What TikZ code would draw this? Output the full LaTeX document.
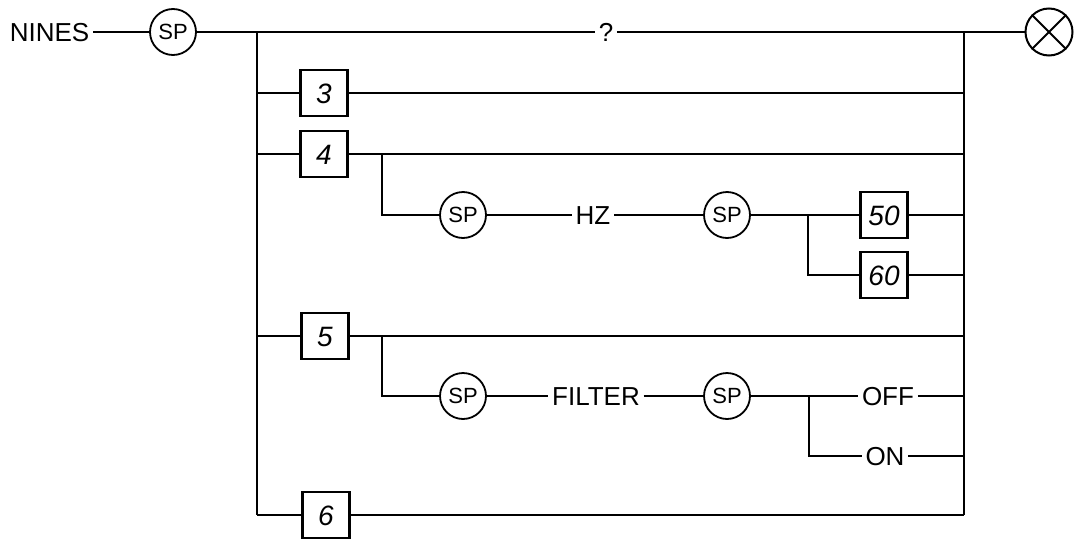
\documentclass[tikz,border=0pt]{standalone}
\usepackage{fontspec}
\setmainfont{Liberation Sans}
\begin{document}
\begin{tikzpicture}[x=1pt,y=-1pt,
  line width=1.5pt,
  lbl/.style={inner sep=3pt, font=\fontsize{26}{26}\selectfont, text height=18.6pt, text depth=0pt},
  sp/.style={circle, draw, line width=1.8pt, minimum size=46pt, inner sep=0pt, font=\fontsize{22}{22}\selectfont, text height=15.8pt, text depth=0pt},
  numbox/.style={draw, line width=2.3pt, minimum width=47pt, minimum height=46pt, inner sep=0pt, font=\fontsize{28}{28}\selectfont\itshape, text height=20pt, text depth=0pt},
  endc/.style={circle, draw, line width=2pt, minimum size=47pt, inner sep=0pt}
]
\useasboundingbox (0,0) rectangle (1074,541);

% main line
\node[lbl, anchor=east] (nines) at (93,32) {NINES};
\node[sp] (sp0) at (173,32) {SP};
\coordinate (L0) at (257,32);
\coordinate (R0) at (964,32);
\node[lbl] (q) at (606,32) {?};
\node[endc] (end) at (1049,32) {};
\draw[line width=2pt] (end.north west) -- (end.south east) (end.north east) -- (end.south west);
\draw (nines) -- (sp0);
\draw (sp0) -- (q);
\draw (q) -- (R0) -- (end);

% verticals
\coordinate (L6) at (257,515);
\coordinate (R6) at (964,515);
\draw (L0) -- (L6);
\draw (R0) -- (R6);

% row 3
\coordinate (L3) at (257,93);
\coordinate (R3) at (964,93);
\node[numbox] (b3) at (324,93) {3};
\draw (L3) -- (b3) -- (R3);

% row 4
\coordinate (L4) at (257,154);
\coordinate (R4) at (964,154);
\node[numbox] (b4) at (324,154) {4};
\draw (L4) -- (b4) -- (R4);
\coordinate (J4) at (382,154);
\coordinate (J4d) at (382,215);
\node[sp] (sp1) at (463,215) {SP};
\node[lbl] (hz) at (593,215) {HZ};
\node[sp] (sp2) at (727,215) {SP};
\node[numbox] (b50) at (884,215) {50};
\node[numbox] (b60) at (884,275) {60};
\coordinate (R50) at (964,215);
\coordinate (R60) at (964,275);
\coordinate (K4d) at (808,275);
\coordinate (K4) at (808,215);
\draw (J4) -- (J4d) -- (sp1);
\draw (sp1) -- (hz);
\draw (hz) -- (sp2);
\draw (sp2) -- (b50) -- (R50);
\draw (K4) -- (K4d) -- (b60) -- (R60);

% row 5
\coordinate (L5) at (257,336);
\coordinate (R5) at (964,336);
\node[numbox] (b5) at (325,336) {5};
\draw (L5) -- (b5) -- (R5);
\coordinate (J5) at (382,336);
\coordinate (J5d) at (382,396);
\node[sp] (sp3) at (463,396) {SP};
\node[lbl] (filter) at (596,396) {FILTER};
\node[sp] (sp4) at (727,396) {SP};
\node[lbl] (off) at (888,396) {OFF};
\node[lbl] (on) at (885,456) {ON};
\coordinate (ROFF) at (964,396);
\coordinate (RON) at (964,456);
\coordinate (K5) at (809,396);
\coordinate (K5d) at (809,456);
\draw (J5) -- (J5d) -- (sp3);
\draw (sp3) -- (filter);
\draw (filter) -- (sp4);
\draw (sp4) -- (off) -- (ROFF);
\draw (K5) -- (K5d) -- (on) -- (RON);

% row 6
\node[numbox] (b6) at (326,515) {6};
\draw (L6) -- (b6) -- (R6);
\end{tikzpicture}
\end{document}
